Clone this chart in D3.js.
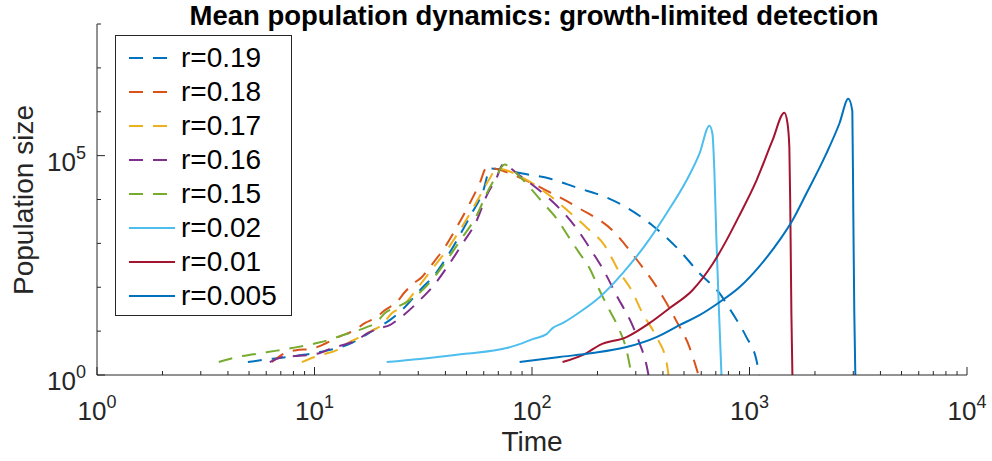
<!DOCTYPE html>
<html><head><meta charset="utf-8">
<script src="https://cdn.jsdelivr.net/npm/d3@7"></script>
<style>
body{margin:0;background:#fff}
svg{display:block}
text{font-family:"Liberation Sans",Arial,Helvetica,sans-serif;fill:#262626}
</style>
</head><body>
<svg id="chart" width="992" height="461"></svg>
<script>
// ---------- DATA ----------
const seriesLabels = ["r=0.19","r=0.18","r=0.17","r=0.16","r=0.15","r=0.02","r=0.01","r=0.005"];
const seriesColors = ["#0072BD","#D95319","#EDB120","#7E2F8E","#77AC30","#4DBEEE","#A2142F","#0072BD"];
const seriesDashed = [true,true,true,true,true,false,false,false];

const time019 = [4.94,5.73,7.46,10.58,14.07,19.33,22.18,25.18,31.45,34.94,40.53,46.5,52.8,59.3,64.5,76.4,90.5,120.4,160.3,220.1,272,358.1,476.4,588.8,727.5,834.6,967.7,1076,1110];
const pop019  = [1.97,2.19,2.57,3.33,4.81,11.7,17.8,30,100,169,481,1520,4810,14400,50700,45600,39000,30000,18700,11100,6580,2560,693,208,73.1,25.7,7.31,2.19,1];

const time018 = [6.37,7.31,8.29,9.51,13.49,15.31,17.02,19.33,21.03,23.88,25.98,28.59,31.11,33.85,39.68,45.53,51.7,57.4,61.9,67.3,87.7,116.7,165.5,234.5,302.4,398.1,461.5,529.7,582.5];
const pop018  = [1.97,3.16,3.7,3.9,8.11,10.5,15.2,20.8,30,45.6,76.9,123,169,285,811,2560,8110,23100,53400,50700,31600,16000,6240,1970,433,62.4,16.9,4.33,1];

const time017 = [8.74,10.03,11.15,12.66,14.22,15.81,18.53,20.38,22.66,25.18,27.4,30.46,34.94,40.53,46.5,52.8,58.7,63.9,68.8,90.5,120.4,145.7,178.2,215.6,252.6,286.7,322,373.6,415.3,424.2];
const pop017  = [1.97,2.57,3,3.7,5.34,6.93,10.5,13.7,25.7,35.1,56.2,111,270,693,1970,5620,14400,30000,50700,31600,12300,5620,2310,901,219,85.5,25.7,7.31,1.97,1];

const time016 = [6.23,7.15,8.12,9.32,10.58,12.01,13.49,15.64,17.57,19.95,22.18,24.65,29.83,35.69,41.84,48,55.7,61.9,68.8,73.3,87.7,108.4,129.7,160.3,189.8,211,247.3,286.7,312.1,336,343.2];
const pop016  = [1.97,2.57,2.7,2.85,3.16,4.11,4.81,6.24,9.01,11.7,13.7,19.7,45.6,117,351,1000,3330,12300,31600,62400,35100,16000,7310,2190,624,270,59.3,15.2,5.34,1.69,1];

const time015 = [3.63,4.21,6.1,7.87,10.25,12.01,13.49,15,17.39,19.33,21.03,23.88,25.98,29.5,34.58,40.53,47.5,55.7,61.9,68.8,74.8,87.7,100.6,111.9,129.7,148.9,165.5,183.9,204.4,227.2,252.6,272,286.7];
const pop015  = [1.97,2.43,3.33,4.11,5.34,6.58,8.11,9.49,12.3,16,25.7,35.1,43.3,65.8,144,411,1300,4330,13700,35100,62400,33300,16000,8550,3700,1300,593,270,85.5,30,10.5,3.7,1];

const time002 = [21.48,30.46,48,76.4,90.5,100.6,116.7,124.3,138.2,165.5,204.4,260.8,336,415.3,513.1,588.8,654.3,675.4,690,704.7,727.5,743.1];
const pop002  = [1.97,2.31,3,4.11,5.34,6.58,8.55,11.7,15.2,27,59.3,208,1000,4810,27000,111000,481000,316000,39000,1170,15.2,1];

const time001 = [138.2,178.2,204.4,272,346.9,428.6,546.7,675.4,783.5,898.5,1076,1274,1447,1494,1525,1541,1558,1575];
const pop001  = [1.97,3.16,4.81,7.31,15.2,33.3,85.5,333,1170,4330,27000,219000,949000,562000,152000,4810,25.7,1];

const time0005 = [87.7,133.9,189.8,272,373.6,476.4,588.8,727.5,898.5,1110,1372,1575,1826,2255,2588,2847,2970,3001,3033,3066];
const pop0005  = [1.97,2.57,3.16,4.33,7.31,13.7,23.1,45.6,100,300,1170,3330,13700,111000,533000,1970000,1050000,4810,25.7,1];

const seriesTimes = [time019,time018,time017,time016,time015,time002,time001,time0005];
const seriesPops  = [pop019,pop018,pop017,pop016,pop015,pop002,pop001,pop0005];

const xTickExponents = [0,1,2,3,4];
const yLabelExponents = [0,5];
const yTickExponents = [0,1,2,3,4,5,6,7,8];
const titleText = "Mean population dynamics: growth-limited detection";
const xLabelText = "Time";
const yLabelText = "Population size";

// ---------- LAYOUT ----------
const svg = d3.select("#chart");
const L = 97, R = 967, T = 24, B = 375;
const axisColor = "#262626";

const x = d3.scaleLog().domain([1, 1e4]).range([L, R]);
const y = d3.scaleLog().domain([1, 1e8]).range([B, T]);

svg.append("defs").append("clipPath").attr("id","plotclip")
  .append("rect").attr("x",L).attr("y",T-2).attr("width",R-L+2).attr("height",B-T+3);

// curves
const line = d3.line().x(d => x(d[0])).y(d => y(d[1])).curve(d3.curveMonotoneX);
const gCurves = svg.append("g").attr("clip-path","url(#plotclip)");
seriesLabels.forEach((lab,i) => {
  const pts = seriesTimes[i].map((t,j) => [t, seriesPops[i][j]]);
  gCurves.append("path")
    .attr("d", line(pts))
    .attr("fill","none")
    .attr("stroke", seriesColors[i])
    .attr("stroke-width", 2)
    .attr("stroke-linejoin","round")
    .attr("stroke-dasharray", seriesDashed[i] ? "14,10" : null);
});

// x axis
const gx = svg.append("g");
gx.append("line").attr("x1",L).attr("x2",R).attr("y1",B).attr("y2",B)
  .attr("stroke",axisColor).attr("stroke-width",1);
xTickExponents.forEach(e => {
  const v = Math.pow(10,e);
  gx.append("line").attr("x1",x(v)).attr("x2",x(v)).attr("y1",B).attr("y2",B-8)
    .attr("stroke",axisColor).attr("stroke-width",1);
  if (e < 4) {
    for (let m = 2; m <= 9; m++) {
      const mv = m * v;
      gx.append("line").attr("x1",x(mv)).attr("x2",x(mv)).attr("y1",B).attr("y2",B-4)
        .attr("stroke",axisColor).attr("stroke-width",1);
    }
  }
  const t = gx.append("text").attr("x",x(v)).attr("y",B+45)
    .attr("text-anchor","middle").attr("font-size",26);
  t.append("tspan").text("10");
  t.append("tspan").attr("dy",-12).attr("font-size",18).text(String(e));
});

// y axis
const gy = svg.append("g");
gy.append("line").attr("x1",L).attr("x2",L).attr("y1",T).attr("y2",B)
  .attr("stroke",axisColor).attr("stroke-width",1);
yTickExponents.forEach(e => {
  const v = Math.pow(10,e);
  const major = yLabelExponents.includes(e);
  gy.append("line").attr("x1",L).attr("x2",L + (major ? 8 : 4)).attr("y1",y(v)).attr("y2",y(v))
    .attr("stroke",axisColor).attr("stroke-width",1);
});
yLabelExponents.forEach(e => {
  const v = Math.pow(10,e);
  const t = gy.append("text").attr("x",L-11).attr("y",y(v)+15)
    .attr("text-anchor","end").attr("font-size",26);
  t.append("tspan").text("10");
  t.append("tspan").attr("dy",-12).attr("font-size",18).text(String(e));
});

// labels
svg.append("text").attr("x",(L+R)/2).attr("y",451).attr("text-anchor","middle")
  .attr("font-size",28).text(xLabelText);
svg.append("text").attr("transform",`translate(33,200) rotate(-90)`).attr("text-anchor","middle")
  .attr("font-size",28).text(yLabelText);
svg.append("text").attr("x",(L+R)/2 + 2).attr("y",25).attr("text-anchor","middle")
  .attr("font-size",27.5).attr("font-weight","bold").style("fill","#000").text(titleText);

// legend
const lg = svg.append("g");
lg.append("rect").attr("x",115.5).attr("y",35.5).attr("width",176).attr("height",280)
  .attr("fill","#fff").attr("stroke",axisColor).attr("stroke-width",1);
seriesLabels.forEach((lab,i) => {
  const yy = 58 + i*34;
  lg.append("line").attr("x1",129).attr("x2",175).attr("y1",yy).attr("y2",yy)
    .attr("stroke",seriesColors[i]).attr("stroke-width",2)
    .attr("stroke-dasharray", seriesDashed[i] ? "14,10" : null);
  lg.append("text").attr("x",181).attr("y",yy+9).attr("font-size",28).style("fill","#000").text(lab);
});
</script>
</body></html>
